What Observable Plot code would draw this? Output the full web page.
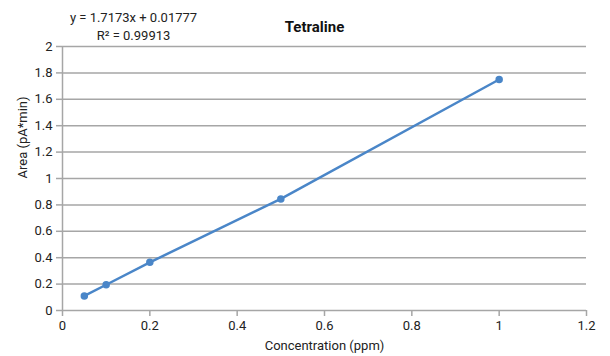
<!DOCTYPE html>
<html><head><meta charset="utf-8">
<script src="https://cdn.jsdelivr.net/npm/d3@7"></script>
<script src="https://cdn.jsdelivr.net/npm/@observablehq/plot@0.6"></script>
<style>
body{margin:0;background:#fff;}
</style>
</head><body>
<div id="chart"></div>
<script>
const concentration = [0.05, 0.1, 0.2, 0.5, 1.0];
const area = [0.11, 0.195, 0.365, 0.845, 1.75];
const xTicks = [0, 0.2, 0.4, 0.6, 0.8, 1, 1.2];
const yTicks = [0, 0.2, 0.4, 0.6, 0.8, 1, 1.2, 1.4, 1.6, 1.8, 2];
const title = "Tetraline";
const equation = "y = 1.7173x + 0.01777";
const rSquared = "R² = 0.99913";
const xLabel = "Concentration (ppm)";
const yLabel = "Area (pA*min)";

const data = concentration.map((c, i) => ({c, a: area[i]}));
const fmt = d => String(+d.toFixed(1));
const grid = "#a6a6a6";
const blue = "#4a86c8";
const txt = "#222";

const chart = Plot.plot({
  width: 610, height: 356,
  marginLeft: 62, marginRight: 24, marginTop: 46, marginBottom: 46,
  style: {fontFamily: 'Roboto, sans-serif', fontSize: "13px", color: txt},
  x: {domain: [0, 1.2]},
  y: {domain: [0, 2]},
  marks: [
    Plot.gridY(yTicks.slice(1), {stroke: grid, strokeOpacity: 1, strokeWidth: 1.5}),
    Plot.ruleY([0], {stroke: grid, strokeWidth: 1.5}),
    Plot.ruleX([0], {stroke: grid, strokeWidth: 1.5}),
    Plot.axisX({ticks: xTicks, tickFormat: fmt, tickSize: 6, stroke: grid, strokeWidth: 1.5, strokeOpacity: 1, tickPadding: 4, fontSize: 13, label: null}),
    Plot.axisY({ticks: yTicks, tickFormat: fmt, tickSize: 6, stroke: grid, strokeWidth: 1.5, strokeOpacity: 1, tickPadding: 4, fontSize: 13, label: null}),
    Plot.line(data, {x: "c", y: "a", stroke: blue, strokeWidth: 2.5}),
    Plot.dot(data, {x: "c", y: "a", symbol: "circle", r: 3, fill: blue, stroke: blue}),
    Plot.text([title], {frameAnchor: "top", lineAnchor: "middle", dx: -10, dy: -19, fontWeight: "bold", fontSize: 15, fill: "#111"}),
    Plot.text([equation], {frameAnchor: "top-left", lineAnchor: "middle", dx: 71, dy: -29, textAnchor: "middle", fontSize: 13, fill: txt}),
    Plot.text([rSquared], {frameAnchor: "top-left", lineAnchor: "middle", dx: 71, dy: -11, textAnchor: "middle", fontSize: 13, fill: txt}),
    Plot.text([xLabel], {frameAnchor: "bottom", lineAnchor: "middle", dy: 35, fontSize: 13, fill: txt}),
    Plot.text([yLabel], {frameAnchor: "left", lineAnchor: "middle", dx: -40, rotate: -90, fontSize: 13, fill: txt})
  ]
});
document.getElementById("chart").append(chart);
</script>
</body></html>
